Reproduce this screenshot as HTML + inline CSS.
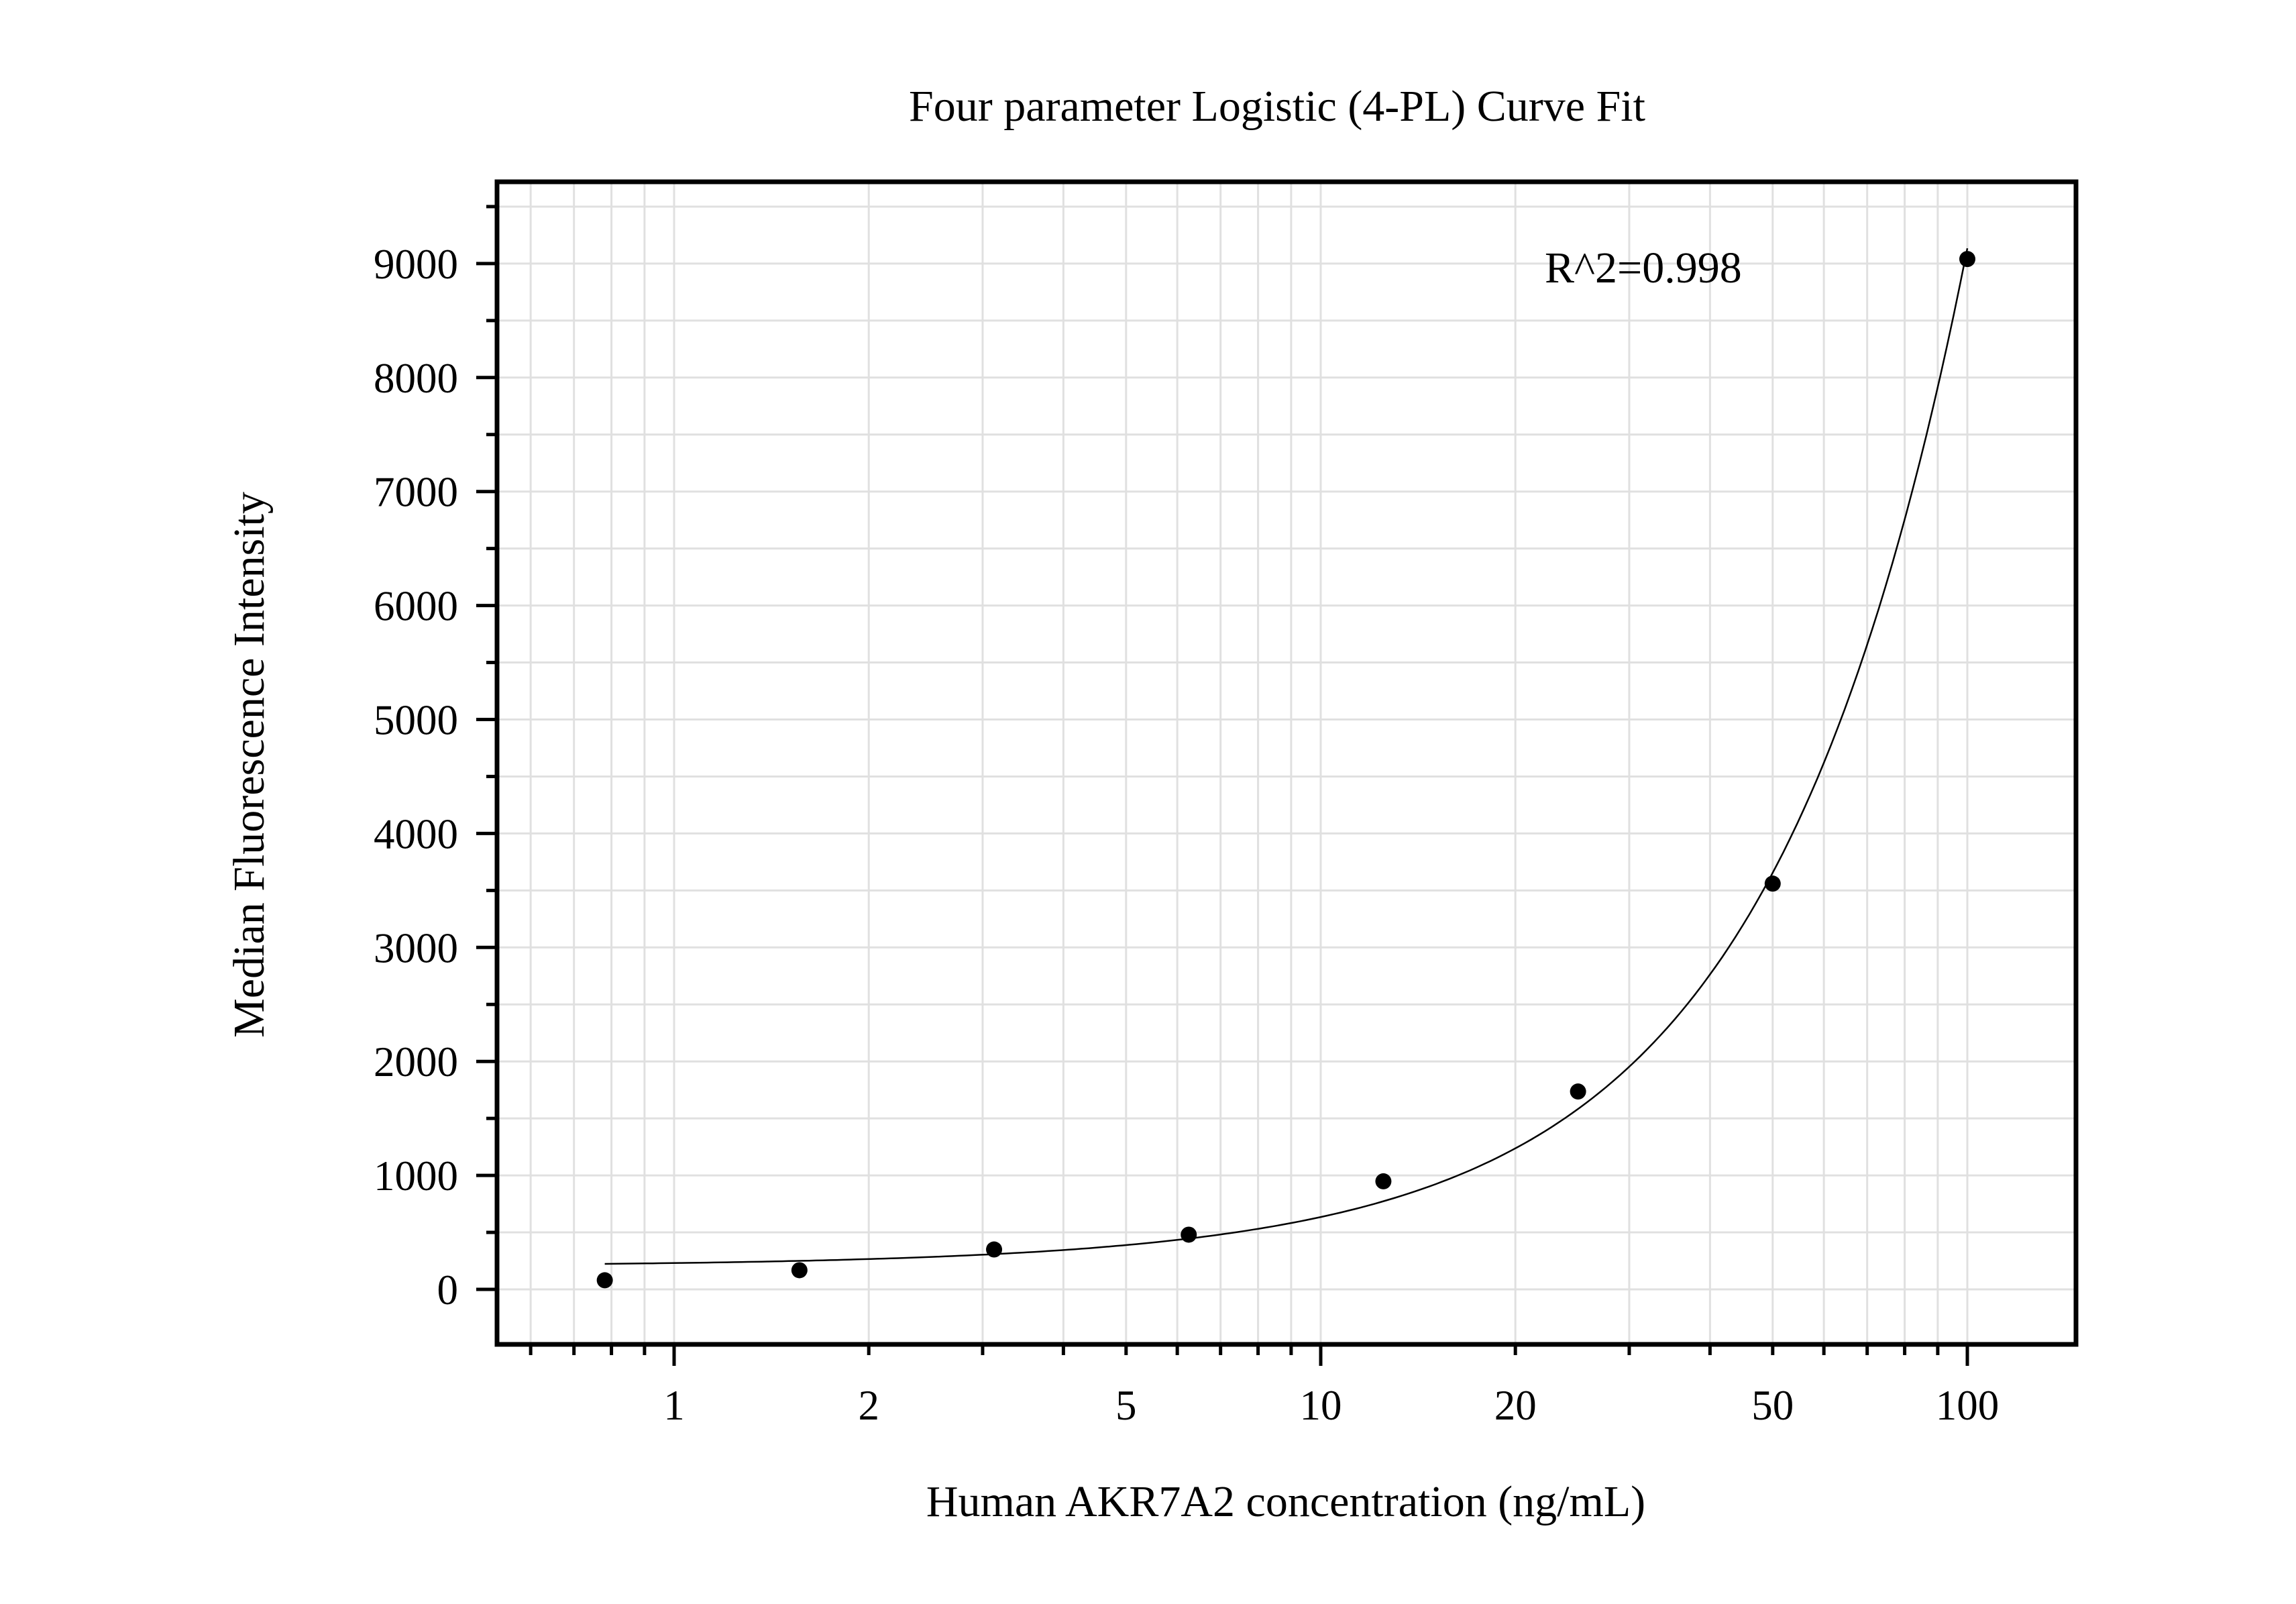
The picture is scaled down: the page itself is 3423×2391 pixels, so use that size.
<!DOCTYPE html>
<html><head><meta charset="utf-8"><style>
html,body{margin:0;padding:0;background:#fff;}
svg{display:block;}
text{font-family:"Liberation Serif",serif;fill:#000;}
</style></head><body>
<svg id="s" width="3423" height="2391" xmlns="http://www.w3.org/2000/svg">
<rect width="3423" height="2391" fill="#fff"/>
<g id="grid" stroke="#e0e0e0" stroke-width="3"></g>
<path id="curve" fill="none" stroke="#000" stroke-width="2.5"/>
<g id="pts" fill="#000"></g>
<rect x="741" y="271" width="2354" height="1733" fill="none" stroke="#000" stroke-width="7"/>
<g id="ticks" stroke="#000" stroke-width="5"></g>
<g id="labels" font-size="63"></g>
<text x="1904" y="180" font-size="66" text-anchor="middle">Four parameter Logistic (4-PL) Curve Fit</text>
<text x="2303" y="421" font-size="66">R^2=0.998</text>
<text x="1917" y="2260" font-size="66" text-anchor="middle">Human AKR7A2 concentration (ng/mL)</text>
<text transform="translate(393,1140) rotate(-90)" font-size="66" text-anchor="middle">Median Fluorescence Intensity</text>
</svg>
<script>
var NS="http://www.w3.org/2000/svg";
function X(v){return 1005+964*Math.log10(v);}
function Y(v){return 1922-v*0.1699;}
function el(p,t,a,txt){var e=document.createElementNS(NS,t);for(var k in a)e.setAttribute(k,a[k]);if(txt!==undefined)e.textContent=txt;document.getElementById(p).appendChild(e);}
var L=741,R=3095,T=271,B=2004;
var xs=[];
[0.1,1,10].forEach(function(d){for(var i=1;i<10;i++){var v=i*d;if(X(v)>L+4&&X(v)<R-4)xs.push(v);}});xs.push(100);
xs.forEach(function(v){var x=X(v);el('grid','line',{x1:x,x2:x,y1:T,y2:B});
var maj=(Math.abs(Math.log10(v)-Math.round(Math.log10(v)))<1e-6);
el('ticks','line',{x1:x,x2:x,y1:B,y2:B+(maj?32:16)});});
[1,2,5,10,20,50,100].forEach(function(v){el('labels','text',{x:X(v),y:2116,'text-anchor':'middle'},String(v));});
for(var v=0;v<=9500;v+=500){var y=Y(v);el('grid','line',{x1:L,x2:R,y1:y,y2:y});
var maj=v%1000==0;el('ticks','line',{x1:L,x2:L-(maj?31:16),y1:y,y2:y});
if(maj)el('labels','text',{x:683,y:y+22,'text-anchor':'end'},String(v));}
var d="";for(var i=0;i<=200;i++){var u=Math.log(0.78125)+(Math.log(100)-Math.log(0.78125))*i/200;
var du=u-3.219;var val=200+Math.exp(7.232+1.296*du+0.036*du*du);
d+=(i?"L":"M")+X(Math.exp(u)).toFixed(1)+","+Y(val).toFixed(1);}
document.getElementById('curve').setAttribute('d',d);
var px=[0.78125,1.5625,3.125,6.25,12.5,25,50,100],py=[80,168,350,480,948,1736,3560,9040];
for(var i=0;i<8;i++)el('pts','circle',{cx:X(px[i]),cy:Y(py[i]),r:12});
</script>
</body></html>
